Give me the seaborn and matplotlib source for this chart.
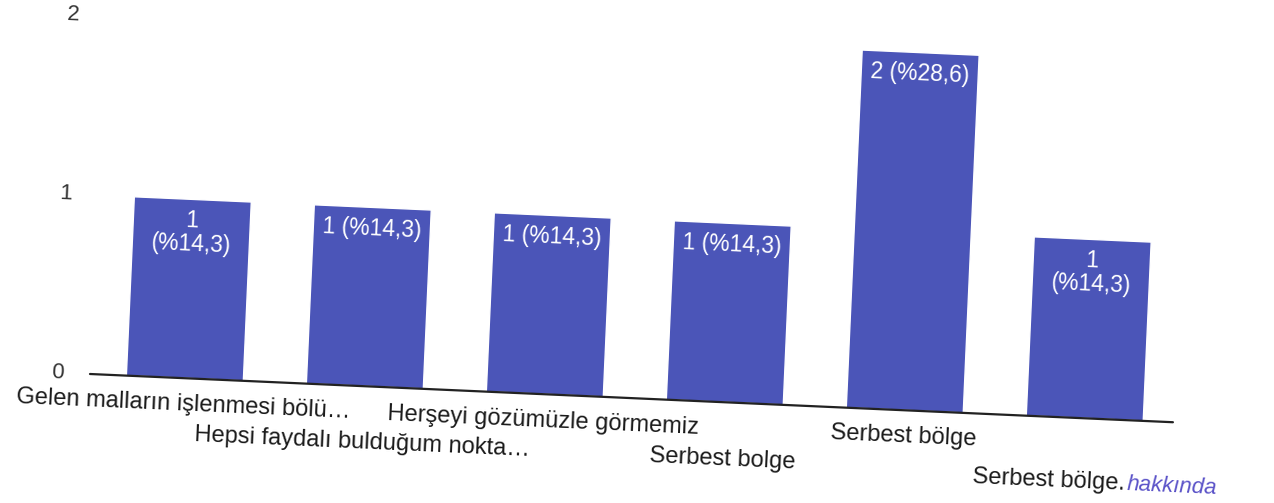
import matplotlib
matplotlib.use('Agg')
import matplotlib.pyplot as plt
import matplotlib.transforms as mtransforms
import seaborn as sns
import pandas as pd

# data
categories = ['Gelen malların işlenmesi bölü…', 'Hepsi faydalı bulduğum nokta…',
              'Herşeyi gözümüzle görmemiz', 'Serbest bolge', 'Serbest bölge',
              'Serbest bölge.']
counts = [1, 1, 1, 1, 2, 1]
wrap_label = [True, False, False, False, False, True]
y_ticks = [0, 1, 2]
note = 'hakkında'

sns.set_style('white')
plt.rcParams['font.family'] = ['Liberation Sans', 'DejaVu Sans']

W, H = 1274, 503
TILT = -2.55  # the scan is slightly rotated clockwise

fig = plt.figure(figsize=(W / 100, H / 100), dpi=100)
ax = fig.add_axes([90 / W, 129 / H, 1084 / W, 358 / H])

df = pd.DataFrame({'answer': categories, 'count': counts})
sns.barplot(data=df, x='answer', y='count', color='#4b55b8', saturation=1,
            width=0.65, ax=ax)
ax.set_xlim(-0.527, 5.49)
ax.set_ylim(0, 2)
ax.set_xticks([])
ax.set_yticks([])
ax.set_xlabel('')
ax.set_ylabel('')
sns.despine(ax=ax, left=True, bottom=True)

rot = mtransforms.Affine2D().rotate_deg_around(90, 129, TILT)

for p in ax.patches:
    p.set_transform(p.get_data_transform() + rot)
    p.set_clip_on(False)

base, = ax.plot(ax.get_xlim(), [0, 0], color='#222222', lw=1.6)
base.set_transform(ax.transData + rot)
base.set_clip_on(False)

total = sum(counts)


def tilted_text(x, y, s, trans, **kw):
    t = ax.text(x, y, s, transform=trans + rot, rotation=TILT,
                rotation_mode='anchor', clip_on=False, **kw)
    return t


# y tick labels
for v in y_ticks:
    tilted_text(-0.024, v, str(v), ax.get_yaxis_transform(), ha='right',
                va='center', fontsize=16, color='#333333')

# value labels inside bars
for i, c in enumerate(counts):
    pct = f'{c / total * 100:.1f}'.replace('.', ',')
    sep = '\n' if wrap_label[i] else ' '
    tilted_text(i, c - 0.055, f'{c}{sep}(%{pct})', ax.transData, ha='center',
                va='top', fontsize=16.5, color='white', linespacing=1.05)

# category labels, alternating in two rows
for i, name in enumerate(categories):
    y = -0.18 if i % 2 == 0 else -0.35
    if i == len(categories) - 1:
        tilted_text(i + 0.24, y - 0.04, name, ax.transData, ha='right',
                    va='baseline', fontsize=17, color='#1a1a1a')
        tilted_text(i + 0.25, y - 0.04, note, ax.transData, ha='left',
                    va='baseline', fontsize=16, color='#5a52c8',
                    fontstyle='italic')
    else:
        tilted_text(i, y, name, ax.transData, ha='center', va='baseline',
                    fontsize=17, color='#1a1a1a')

fig.savefig('out.png', dpi=100)
